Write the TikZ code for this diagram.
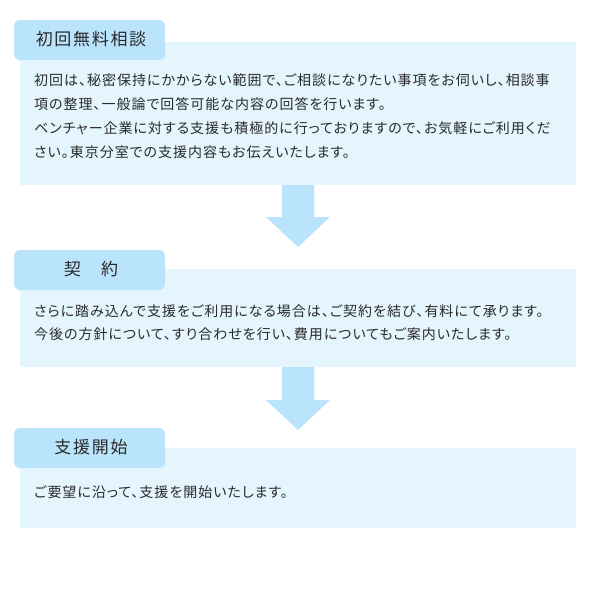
\documentclass[tikz,border=0pt]{standalone}
\usepackage{fontspec}
\setmainfont{Noto Sans CJK JP}
\definecolor{tabblue}{HTML}{BAE4FC}
\definecolor{boxblue}{HTML}{E4F5FE}
\definecolor{txt}{HTML}{2A2A2A}
\tikzset{
  x=1pt, y=-1pt,
  panel/.style={fill=boxblue, draw=none},
  tabbox/.style={fill=tabblue, draw=none, rounded corners=6pt},
  flowarrow/.style={fill=tabblue, draw=none},
  tabtext/.style={anchor=base, inner sep=0pt, text=txt, font=\fontsize{17}{20}\selectfont\addfontfeature{LetterSpace=10}},
  bodytext/.style={anchor=base west, inner sep=0pt, text=txt, font=\fontsize{14}{17}\selectfont\addfontfeature{RawFeature=+palt,LetterSpace=7}}
}
\begin{document}
\begin{tikzpicture}
\useasboundingbox (0,0) rectangle (600,600);
\fill[white] (0,0) rectangle (600,600);
% panels
\path[panel] (20,42) rectangle (576,185);
\path[panel] (20,269) rectangle (576,367);
\path[panel] (20,448) rectangle (576,528);
% tabs
\path[tabbox] (14,20) rectangle (165,60);
\path[tabbox] (14,250) rectangle (165,290);
\path[tabbox] (14,428) rectangle (165,468);
% arrows
\path[flowarrow] (282,185) -- (314,185) -- (314,217) -- (330,217) -- (298,247) -- (266,217) -- (282,217) -- cycle;
\path[flowarrow] (282,367) -- (314,367) -- (314,400) -- (330,400) -- (298,430) -- (266,400) -- (282,400) -- cycle;
% tab texts
\node[tabtext] (t1) at (91,45.8) {初回無料相談};
\node[tabtext] (t2) at (91,275.8) {契　約};
\node[tabtext] (t3) at (91,453.8) {支援開始};
% body texts
\node[bodytext] (a1) at (34,85) {初回は、秘密保持にかからない範囲で、ご相談になりたい事項をお伺いし、相談事};
\node[bodytext] (a2) at (34,109) {項の整理、一般論で回答可能な内容の回答を行います。};
\node[bodytext] (a3) at (34,133) {ベンチャー企業に対する支援も積極的に行っておりますので、お気軽にご利用くだ};
\node[bodytext] (a4) at (34,157) {さい。東京分室での支援内容もお伝えいたします。};
\node[bodytext] (b1) at (34,316) {さらに踏み込んで支援をご利用になる場合は、ご契約を結び、有料にて承ります。};
\node[bodytext] (b2) at (34,339.5) {今後の方針について、すり合わせを行い、費用についてもご案内いたします。};
\node[bodytext] (c1) at (34,497) {ご要望に沿って、支援を開始いたします。};
\end{tikzpicture}
\end{document}
